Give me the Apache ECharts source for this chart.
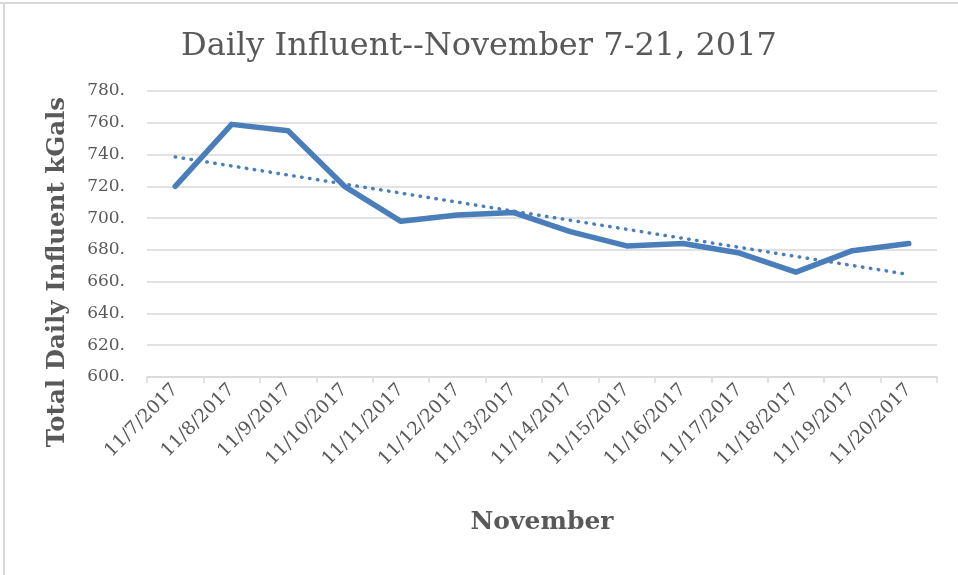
<!DOCTYPE html>
<html lang="en">
<head>
<meta charset="UTF-8">
<title>Daily Influent</title>
<style>
  html, body { margin: 0; padding: 0; background: #fff; }
  #chart { width: 958px; height: 575px; }
</style>
</head>
<body>
<div id="chart"></div>
<script src="https://cdn.jsdelivr.net/npm/echarts@6/dist/echarts.min.js"></script>
<script>
// data
var days = ['11/7/2017', '11/8/2017', '11/9/2017', '11/10/2017', '11/11/2017', '11/12/2017', '11/13/2017',
  '11/14/2017', '11/15/2017', '11/16/2017', '11/17/2017', '11/18/2017', '11/19/2017', '11/20/2017']
var influent = [720, 759, 755, 720, 698, 702, 703.5, 691.5, 682.5, 684, 678, 666, 679.5, 684]
// linear trendline end points
var trendStart = 738.5
var trendEnd = 664.5

var trend = days.map(function (d, i) {
  if (i === 0) return trendStart
  if (i === days.length - 1) return trendEnd
  return null
})

var grey = '#595959'
var blue = '#4a7ebb'
var font = 'DejaVu Serif'

var chart = echarts.init(document.getElementById('chart'))
chart.setOption({
  animation: false,
  title: {
    text: 'Daily Influent--November 7-21, 2017',
    left: 'center',
    top: 26,
    textStyle: { fontFamily: font, fontWeight: 'normal', fontSize: 32, color: grey }
  },
  grid: { left: 147, right: 21, top: 91, bottom: 198 },
  xAxis: {
    type: 'category',
    data: days,
    boundaryGap: true,
    name: 'November',
    nameLocation: 'middle',
    nameGap: 133,
    nameTextStyle: { fontFamily: font, fontWeight: 'bold', fontSize: 25, color: grey },
    axisLine: { lineStyle: { color: '#d9d9d9', width: 1.5 } },
    axisTick: { show: true, length: 6, lineStyle: { color: '#d9d9d9', width: 1.5 } },
    axisLabel: { rotate: 45, fontFamily: font, fontSize: 18.5, color: grey, margin: 10, interval: 0 }
  },
  yAxis: {
    type: 'value',
    min: 600,
    max: 780,
    interval: 20,
    axisLine: { show: false },
    axisTick: { show: false },
    splitLine: { lineStyle: { color: '#d9d9d9', width: 1.5 } },
    axisLabel: {
      fontFamily: font, fontSize: 17, color: grey, margin: 22,
      formatter: function (v) { return v + '.' }
    }
  },
  graphic: [
    {
      type: 'text',
      x: 58,
      y: 272,
      rotation: Math.PI / 2,
      style: {
        text: 'Total Daily Influent kGals',
        fontFamily: font, fontWeight: 'bold', fontSize: 24.5, fill: grey,
        align: 'center', verticalAlign: 'middle'
      }
    },
    { type: 'line', shape: { x1: 0, y1: 3, x2: 958, y2: 3 }, style: { stroke: '#d9d9d9', lineWidth: 2 } },
    { type: 'line', shape: { x1: 4, y1: 3, x2: 4, y2: 575 }, style: { stroke: '#d9d9d9', lineWidth: 2 } }
  ],
  series: [
    {
      type: 'line',
      data: influent,
      symbol: 'none',
      lineStyle: { color: blue, width: 5.5, join: 'round', cap: 'round' }
    },
    {
      type: 'line',
      data: trend,
      connectNulls: true,
      symbol: 'none',
      lineStyle: { color: blue, width: 3.5, type: [0.5, 7.5], cap: 'round' }
    }
  ]
})
</script>
</body>
</html>
